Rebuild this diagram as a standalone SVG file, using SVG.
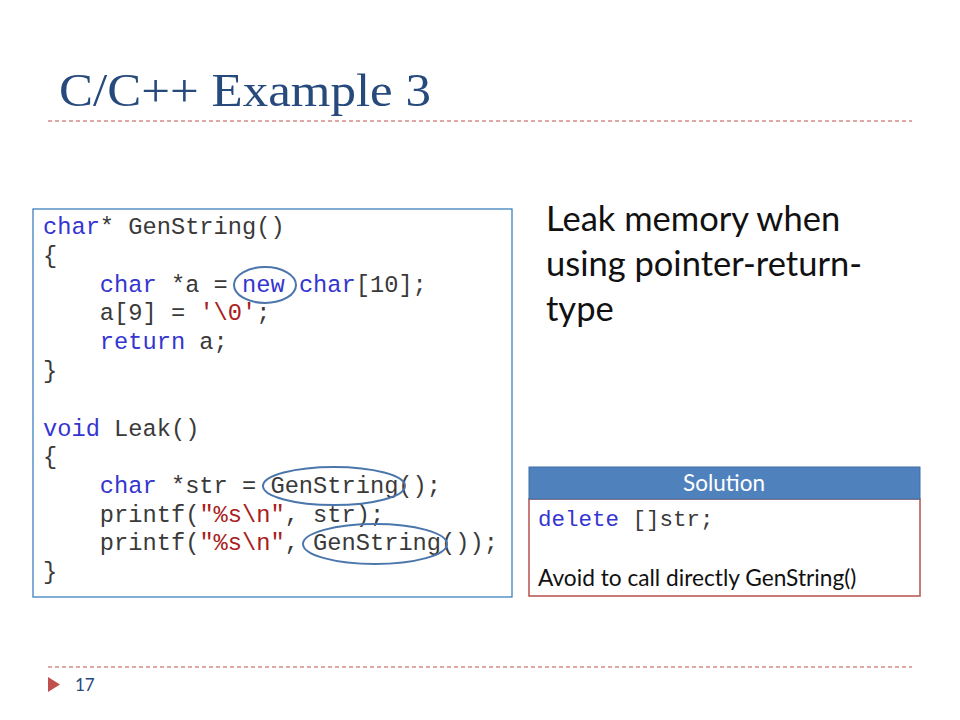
<svg xmlns="http://www.w3.org/2000/svg" width="960" height="720" viewBox="0 0 960 720">
<style>
.code{font-family:"Liberation Mono","Courier New",monospace;font-size:23.7px;fill:#3a3a3a;white-space:pre}
.kw{fill:#3535d0}
.str{fill:#a82020}
.dash{stroke:#c0504d;stroke-width:1;stroke-dasharray:4,3;fill:none}
.oval{fill:none;stroke:#4a76ac;stroke-width:2}
.sans{font-family:Lato,"Open Sans","Liberation Sans",sans-serif}
</style>
<rect width="960" height="720" fill="#ffffff"/>
<g id="title">
<text x="59" y="106" font-family="Liberation Serif,serif" font-size="46" fill="#264a7c" textLength="372" lengthAdjust="spacingAndGlyphs">C/C++ Example 3</text>
<line x1="48" y1="121" x2="912" y2="121" class="dash"/>
</g>
<g id="code-box">
<rect x="33" y="209" width="479" height="388" fill="#ffffff" stroke="#2e75b6" stroke-width="1.2"/>
<text class="code" x="43" y="234"><tspan class="kw">char</tspan>* GenString()</text>
<text class="code" x="43" y="263">{</text>
<text class="code" x="43" y="292">    <tspan class="kw">char</tspan> *a = <tspan class="kw">new</tspan> <tspan class="kw">char</tspan>[10];</text>
<text class="code" x="43" y="320">    a[9] = <tspan class="str">'\0'</tspan>;</text>
<text class="code" x="43" y="349">    <tspan class="kw">return</tspan> a;</text>
<text class="code" x="43" y="378">}</text>
<text class="code" x="43" y="436"><tspan class="kw">void</tspan> Leak()</text>
<text class="code" x="43" y="464">{</text>
<text class="code" x="43" y="493">    <tspan class="kw">char</tspan> *str = GenString();</text>
<text class="code" x="43" y="522">    printf(<tspan class="str">"%s\n"</tspan>, str);</text>
<text class="code" x="43" y="550">    printf(<tspan class="str">"%s\n"</tspan>, GenString());</text>
<text class="code" x="43" y="579">}</text>
</g>
<g id="highlights">
<ellipse class="oval" cx="265" cy="285" rx="31" ry="18"/>
<ellipse class="oval" cx="334" cy="486" rx="71" ry="19"/>
<ellipse class="oval" cx="375" cy="544" rx="72" ry="20"/>
</g>
<g id="note">
<text class="sans" x="546" y="231" font-size="34.5" fill="#111">Leak memory when</text>
<text class="sans" x="546" y="276" font-size="34.5" fill="#111">using pointer-return-</text>
<text class="sans" x="546" y="321" font-size="34.5" fill="#111">type</text>
</g>
<g id="solution">
<rect x="529" y="499" width="391" height="97" fill="#ffffff" stroke="#b5504c" stroke-width="1.5"/>
<rect x="529" y="467" width="391" height="32" fill="#4f81bd" stroke="#3f6ea5" stroke-width="1"/>
<text class="sans" x="724" y="491" font-size="22.5" fill="#ffffff" text-anchor="middle">Solution</text>
<text x="538" y="526" style="font-family:'Liberation Mono','Courier New',monospace;font-size:22.5px;fill:#3a3a3a;white-space:pre"><tspan class="kw">delete</tspan> []str;</text>
<text class="sans" x="538" y="586" font-size="22.7" fill="#111">Avoid to call directly GenString()</text>
</g>
<g id="footer">
<line x1="48" y1="667" x2="912" y2="667" class="dash"/>
<polygon points="48,677 60,684.5 48,692" fill="#c0504d"/>
<text class="sans" x="75" y="691" font-size="17" fill="#264a7c">17</text>
</g>
</svg>
